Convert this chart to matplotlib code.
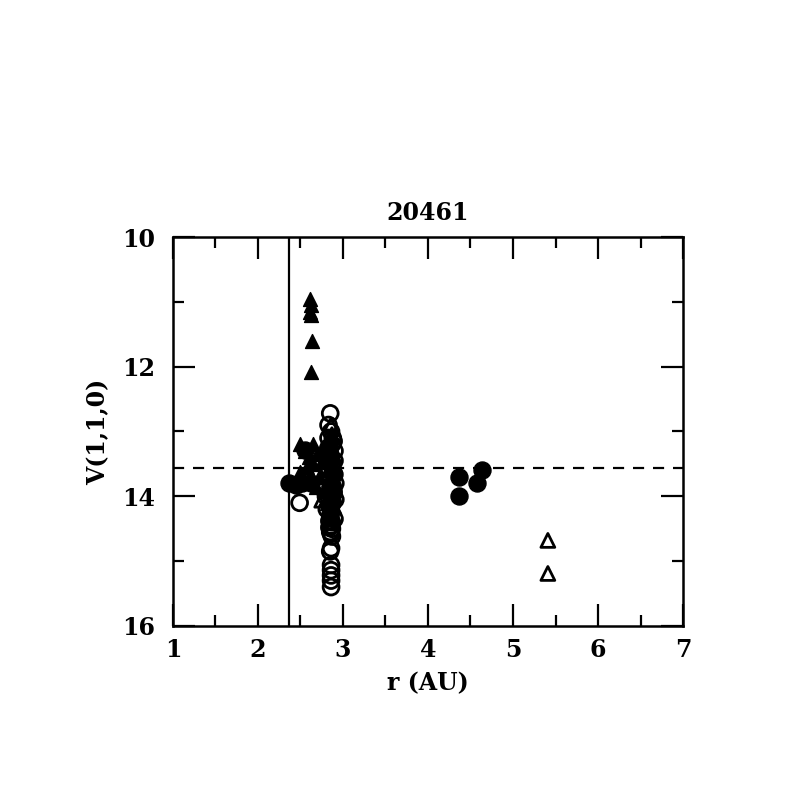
import matplotlib.pyplot as plt
from matplotlib.ticker import MultipleLocator

plt.rcParams['font.family'] = ['DejaVu Serif']
plt.rcParams['font.weight'] = 'bold'

# open circles (r, V)
oc_r = [2.85, 2.86, 2.87, 2.85, 2.88, 2.84, 2.86, 2.88, 2.84, 2.87, 2.85, 2.86,
        2.84, 2.86, 2.85, 2.87, 2.86, 2.85, 2.86, 2.86, 2.86, 2.86, 2.86, 2.49,
        2.80, 2.82, 2.78, 2.90, 2.83, 2.88, 2.85, 2.87, 2.89, 2.83, 2.90, 2.82,
        2.89, 2.84, 2.91, 2.83, 2.88, 2.81, 2.90, 2.84, 2.87, 2.82, 2.89, 2.85,
        2.80, 2.91, 2.86, 2.83]
oc_v = [12.72, 13.0, 13.2, 13.4, 13.5, 13.6, 13.7, 13.85, 13.95, 14.05, 14.15, 14.25,
        14.38, 14.45, 14.55, 14.62, 14.8, 14.85, 15.06, 15.14, 15.22, 15.3, 15.4, 14.1,
        13.8, 13.3, 13.9, 13.3, 12.9, 13.1, 14.3, 14.5, 13.15, 13.25, 13.45, 13.55,
        13.65, 13.75, 13.8, 14.0, 14.1, 14.2, 14.35, 14.48, 14.4, 13.65, 13.95, 13.35,
        14.0, 14.05, 14.58, 13.1]

# open triangles
ot_r = [2.86, 2.87, 2.85, 2.88, 2.84, 2.75, 2.86, 2.89, 2.83, 5.41, 5.41]
ot_v = [12.9, 13.05, 13.25, 13.55, 13.75, 14.06, 14.2, 13.9, 13.45, 14.68, 15.19]

# filled triangles
ft_r = [2.61, 2.62, 2.61, 2.62, 2.63, 2.62, 2.50, 2.65, 2.55, 2.60, 2.70, 2.50,
        2.58, 2.65, 2.75, 2.80, 2.82, 2.90, 2.88, 2.72, 2.60, 2.85, 2.87, 2.78,
        2.84, 2.89, 2.86, 2.81, 2.68]
ft_v = [10.95, 11.05, 11.15, 11.2, 11.6, 12.08, 13.2, 13.2, 13.3, 13.4, 13.35, 13.62,
        13.55, 13.5, 13.45, 13.3, 13.6, 13.4, 13.8, 13.7, 13.7, 13.15, 14.0, 13.9,
        14.3, 14.15, 13.05, 14.1, 13.85]

# filled circles
fc_r = [2.37, 2.45, 2.52, 2.55, 2.62, 2.85, 2.88, 2.86, 2.84, 2.89,
        4.37, 4.37, 4.58, 4.63]
fc_v = [13.8, 13.82, 13.8, 13.28, 13.8, 13.5, 13.9, 14.0, 13.25, 13.65,
        13.7, 14.0, 13.8, 13.6]

r_limit = 2.36
v_mean = 13.56

fig = plt.figure(figsize=(7.97, 7.97), dpi=100)
ax = fig.add_axes([0.217, 0.2146, 0.64, 0.488])

ax.scatter(oc_r, oc_v, s=130, facecolors='none', edgecolors='black', linewidths=2, marker='o')
ax.scatter(ot_r, ot_v, s=100, facecolors='none', edgecolors='black', linewidths=2, marker='^')
ax.scatter(ft_r, ft_v, s=100, color='black', marker='^')
ax.scatter(fc_r, fc_v, s=150, color='black', marker='o')

ax.axvline(r_limit, color='black', lw=1.6)
ax.axhline(v_mean, color='black', lw=1.6, ls=(0, (5, 4)))

ax.set_xlim(1, 7)
ax.set_ylim(16, 10)
ax.xaxis.set_major_locator(MultipleLocator(1))
ax.xaxis.set_minor_locator(MultipleLocator(0.5))
ax.yaxis.set_major_locator(MultipleLocator(2))
ax.yaxis.set_minor_locator(MultipleLocator(1))
ax.tick_params(which='both', direction='in', top=True, right=True, width=1.6, labelsize=17)
ax.tick_params(axis='y', pad=13)
ax.tick_params(axis='x', pad=9)
ax.tick_params(which='major', length=16)
ax.tick_params(which='minor', length=8)
for s in ax.spines.values():
    s.set_linewidth(1.8)

ax.set_title('20461', fontsize=17, fontweight='bold', pad=12)
ax.set_xlabel('r (AU)', fontsize=17, fontweight='bold', labelpad=6)
ax.set_ylabel('V(1,1,0)', fontsize=17, fontweight='bold', labelpad=8)

fig.savefig('out.png', dpi=100)
